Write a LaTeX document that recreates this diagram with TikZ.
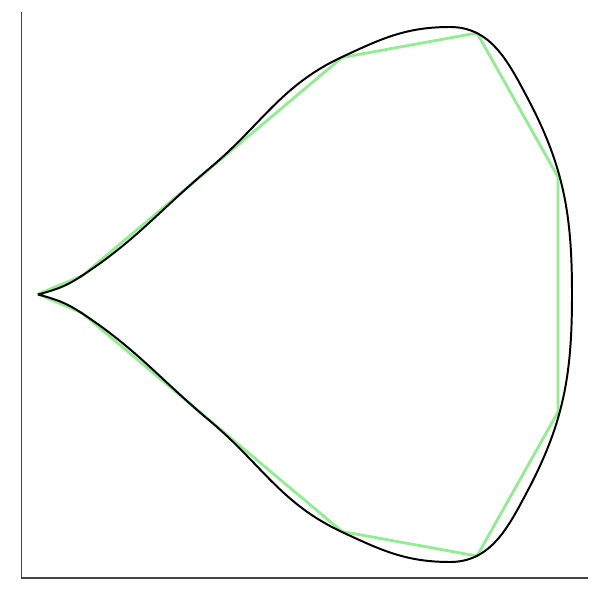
\documentclass[tikz,border=0pt]{standalone}
\definecolor{polygreen}{HTML}{90EE90}
\definecolor{axisgray}{HTML}{444444}
\begin{document}
\begin{tikzpicture}[x=0.025cm, y=0.025cm]

  % ── Canvas ────────────────────────────────────────────────────────
  \useasboundingbox (0,0) rectangle (600,600);

  % ── Axes ──────────────────────────────────────────────────────────
  \draw[axisgray, line width=0.9pt] (21.5,588) -- (21.5,22) -- (588,22);

  % ── Polygon (green) ───────────────────────────────────────────────
  \draw[polygreen, line width=2pt, line join=round]
    (38,306) -- (82,324) -- (342,542.5) -- (477,567) -- (558,423)
    -- (558,188) -- (477,44) -- (342,68.5) -- (82,287) -- cycle;

  % ── Curve points (upper branch, mirrored at y = 305.5) ────────────
  \coordinate (tip)  at (38,305.5);
  \coordinate (u1)   at (80,323);
  \coordinate (u2)   at (210,432);
  \coordinate (u3)   at (342,543);
  \coordinate (top)  at (450,573);
  \coordinate (u4)   at (527,503);
  \coordinate (east) at (572,305.5);
  \coordinate (l4)   at (527,108);
  \coordinate (bot)  at (450,38);
  \coordinate (l3)   at (342,68);
  \coordinate (l2)   at (210,179);
  \coordinate (l1)   at (80,288);

  % ── Smooth curve (black) ──────────────────────────────────────────
  \draw[black, line width=1.4pt, line join=round]
    (tip) to[out=15,in=213] (u1) to[out=33,in=220] (u2)
    to[out=40,in=205] (u3) to[out=25,in=180] (top)
    to[out=0,in=118] (u4) to[out=-62,in=90] (east)
    to[out=-90,in=62] (l4) to[out=-118,in=0] (bot)
    to[out=180,in=-25] (l3) to[out=155,in=-40] (l2)
    to[out=140,in=-33] (l1) to[out=147,in=-15] (tip);

\end{tikzpicture}
\end{document}
